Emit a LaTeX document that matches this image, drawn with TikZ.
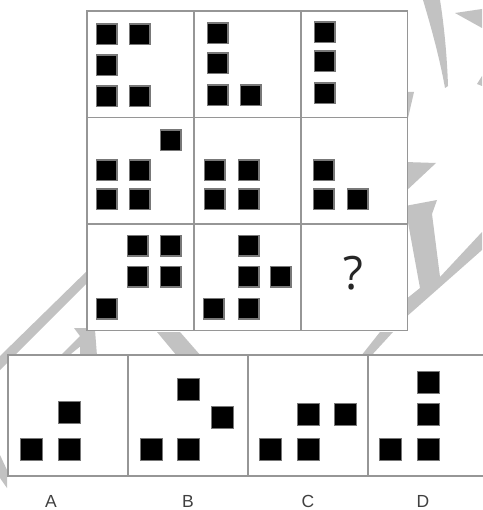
\documentclass[tikz,border=0pt]{standalone}
\usepackage{fontspec}
\setmainfont{Liberation Sans}
\newfontfamily\qfont{Open Sans}
\definecolor{wm}{RGB}{194,194,194}
\definecolor{gridc}{RGB}{150,150,150}
\definecolor{sqedge}{RGB}{120,120,120}
\definecolor{lblc}{RGB}{64,64,64}
\tikzset{
  blk/.style={draw=sqedge, fill=black, line width=1.8pt, minimum size=20.2pt, inner sep=0pt, outer sep=0pt},
  blkbig/.style={blk, minimum size=22pt},
  cell/.style={draw=gridc, fill=white, line width=1.3pt},
  lbl/.style={font=\fontsize{17.5}{17.5}\selectfont, text=lblc, inner sep=0pt},
  wmk/.style={fill=wm, draw=none}
}
\begin{document}
\begin{tikzpicture}[x=1pt,y=-1pt]
\useasboundingbox (0,0) rectangle (482,510);
\fill[white] (0,0) rectangle (482,510);
% watermark (behind boxes)
\fill[wmk] (423,0) .. controls (432,30) and (440,60) .. (445,88) -- (448,86) .. controls (447,55) and (444,25) .. (440,0) -- cycle;
\fill[wmk] (455,13) -- (482,9) -- (482,28) -- cycle;
\fill[wmk] (477,84) -- (482,76) -- (482,86) -- cycle;
\fill[wmk] (405,92) -- (414,92) -- (408,118) -- cycle;
\fill[wmk] (405,162) -- (436,163) -- (405,192) -- cycle;
\fill[wmk] (405,206) -- (437,200) -- (432,214) -- (440,277) -- (482,232) -- (482,250) -- (405,318) -- (405,300) -- (420,288) -- cycle;
\fill[wmk] (90,268) -- (90,280) -- (0,370) -- (0,356) -- cycle;
\fill[wmk] (74,328) -- (90,328) -- (88,340) -- (66,358) -- (58,358) -- (80,336) -- cycle;
\fill[wmk] (0,455) -- (7,470) -- (7,488) -- (0,478) -- cycle;
\fill[wmk] (80,330) -- (95,330) -- (97,356) -- (80,356) -- cycle;
\fill[wmk] (157,332) -- (180,332) -- (201,356) -- (177,356) -- cycle;
\fill[wmk] (380,332) -- (393,332) -- (371,356) -- (361,356) -- cycle;
% puzzle grid
\foreach \c in {87,194,301} {
  \foreach \r in {11,117.5,224} {
    \draw[cell] (\c,\r) rectangle ++(106.7,106.5);
  }
}
% row 1
\node[blk] (a1) at (106.5,34.5) {};
\node[blk] (a2) at (139.5,34.5) {};
\node[blk] (a3) at (106.5,65.5) {};
\node[blk] (a4) at (106.5,96.5) {};
\node[blk] (a5) at (139.5,96.5) {};
\node[blk] (b1) at (217.5,33.5) {};
\node[blk] (b2) at (217.5,63.5) {};
\node[blk] (b3) at (217.5,95.5) {};
\node[blk] (b4) at (250.5,95.5) {};
\node[blk] (c1) at (324.5,32.5) {};
\node[blk] (c2) at (324.5,61.5) {};
\node[blk] (c3) at (324.5,93.5) {};
% row 2
\node[blk] (d1) at (170.5,140.5) {};
\node[blk] (d2) at (106.5,170.5) {};
\node[blk] (d3) at (139.5,170.5) {};
\node[blk] (d4) at (106.5,199.5) {};
\node[blk] (d5) at (139.5,199.5) {};
\node[blk] (e1) at (214.5,170.5) {};
\node[blk] (e2) at (248.5,170.5) {};
\node[blk] (e3) at (214.5,199.5) {};
\node[blk] (e4) at (248.5,199.5) {};
\node[blk] (f1) at (323.5,170.5) {};
\node[blk] (f2) at (323.5,199.5) {};
\node[blk] (f3) at (357.5,199.5) {};
% row 3
\node[blk] (g1) at (137.5,245.5) {};
\node[blk] (g2) at (170.5,245.5) {};
\node[blk] (g3) at (137.5,276.5) {};
\node[blk] (g4) at (170.5,276.5) {};
\node[blk] (g5) at (106.5,308.5) {};
\node[blk] (h1) at (248.5,245.5) {};
\node[blk] (h2) at (248.5,276.5) {};
\node[blk] (h3) at (280.5,276.5) {};
\node[blk] (h4) at (213.5,308.5) {};
\node[blk] (h5) at (248.5,308.5) {};
\node[font=\qfont\fontsize{46}{46}\selectfont, text=black!85, inner sep=0pt] (q) at (353,273) {?};
% options
\foreach \c in {8,128,248,368} {
  \draw[cell] (\c,355) rectangle ++(120,121);
}
\node[blkbig] (oa1) at (31.5,449.5) {};
\node[blkbig] (oa2) at (69.5,449.5) {};
\node[blkbig] (oa3) at (69.5,412.5) {};
\node[blkbig] (ob1) at (151.5,449.5) {};
\node[blkbig] (ob2) at (188.5,449.5) {};
\node[blkbig] (ob3) at (222.5,417.5) {};
\node[blkbig] (ob4) at (188.5,389.5) {};
\node[blkbig] (oc1) at (270.5,449.5) {};
\node[blkbig] (oc2) at (308.5,449.5) {};
\node[blkbig] (oc3) at (308.5,414.5) {};
\node[blkbig] (oc4) at (345.5,414.5) {};
\node[blkbig] (od1) at (390.5,449.5) {};
\node[blkbig] (od2) at (428.5,449.5) {};
\node[blkbig] (od3) at (428.5,414.5) {};
\node[blkbig] (od4) at (428.5,382.5) {};
\node[lbl] (la) at (51,501.5) {A};
\node[lbl] (lb) at (188,501.5) {B};
\node[lbl] (lc) at (308,501.5) {C};
\node[lbl] (ld) at (423,501.5) {D};
\end{tikzpicture}
\end{document}
